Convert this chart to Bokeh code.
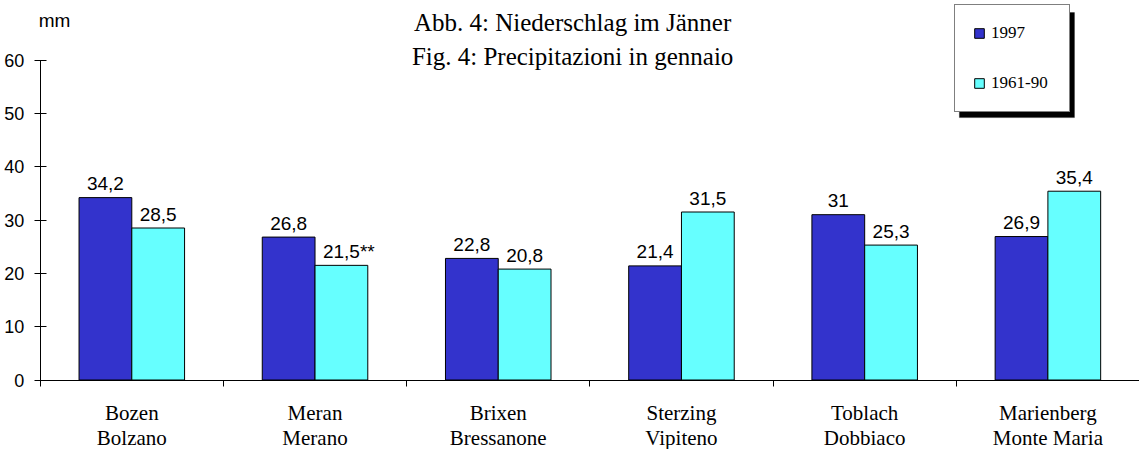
from bokeh.plotting import figure
from bokeh.models import (ColumnDataSource, Range1d, FixedTicker, Legend, LegendItem,
                          Label, BoxAnnotation)
from bokeh.embed import file_html
from bokeh.resources import INLINE
from bokeh.core.properties import value

# ---- data ----
stations_de = ["Bozen", "Meran", "Brixen", "Sterzing", "Toblach", "Marienberg"]
stations_it = ["Bolzano", "Merano", "Bressanone", "Vipiteno", "Dobbiaco", "Monte Maria"]
values_1997 = [34.2, 26.8, 22.8, 21.4, 31.0, 26.9]
values_normal = [28.5, 21.5, 20.8, 31.5, 25.3, 35.4]
labels_1997 = ["34,2", "26,8", "22,8", "21,4", "31", "26,9"]
labels_normal = ["28,5", "21,5**", "20,8", "31,5", "25,3", "35,4"]
y_ticks = [0, 10, 20, 30, 40, 50, 60]
series_names = ["1997", "1961-90"]
title_lines = ["Abb. 4: Niederschlag im Jänner", "Fig. 4: Precipitazioni in gennaio"]
y_unit = "mm"

DARK = "#3333CC"
LIGHT = "#66FFFF"
SANS = "Liberation Sans"
SERIF = "Liberation Serif"

n = len(stations_de)
centers = [i + 0.5 for i in range(n)]
bw = 0.288
x_dark = [c - bw / 2 for c in centers]
x_light = [c + bw / 2 for c in centers]

src_dark = ColumnDataSource(dict(x=x_dark, top=values_1997, lab=labels_1997,
                                 xo=[0.0] * n))
src_light = ColumnDataSource(dict(x=x_light, top=values_normal, lab=labels_normal,
                                  xo=[7.4 if s.endswith("**") else 0.0 for s in labels_normal]))

# frame covers the whole figure; axes are pinned at x=0 / y=0
p = figure(width=1139, height=449, output_backend="svg", toolbar_location=None,
           x_range=Range1d(-0.2167, n), y_range=Range1d(-13.03, 71.16),
           min_border_left=0, min_border_right=0, min_border_top=0, min_border_bottom=0)
p.outline_line_color = None
p.xgrid.visible = False
p.ygrid.visible = False
p.background_fill_color = "white"

r1 = p.vbar(x="x", top="top", width=bw, bottom=0, source=src_dark,
            fill_color=DARK, line_color="black", line_width=1)
r2 = p.vbar(x="x", top="top", width=bw, bottom=0, source=src_light,
            fill_color=LIGHT, line_color="black", line_width=1)

for src in (src_dark, src_light):
    p.text(x="x", y="top", text="lab", source=src, x_offset="xo", y_offset=-14,
           text_align="center", text_baseline="alphabetic",
           text_font=value(SANS), text_font_size="19px", text_color="black")

# x axis
xa = p.xaxis[0]
xa.fixed_location = 0
xa.bounds = (0, n)
xa.ticker = FixedTicker(ticks=centers, minor_ticks=list(range(n + 1)))
xa.major_label_overrides = {c: f"{de}\n{it}" for c, de, it in zip(centers, stations_de, stations_it)}
xa.major_tick_in = 0
xa.major_tick_out = 0
xa.minor_tick_in = 0
xa.minor_tick_out = 6
xa.minor_tick_line_color = "black"
xa.axis_line_color = "black"
xa.major_label_text_font = SERIF
xa.major_label_text_font_size = "21px"
xa.major_label_text_color = "black"
xa.major_label_text_line_height = 1.05
xa.major_label_standoff = 15

# y axis
ya = p.yaxis[0]
ya.fixed_location = 0
ya.bounds = (0, 60)
ya.ticker = FixedTicker(ticks=y_ticks)
ya.major_tick_in = 6
ya.major_tick_out = 6
ya.minor_tick_line_color = None
ya.axis_line_color = "black"
ya.major_tick_line_color = "black"
ya.major_label_text_font = SANS
ya.major_label_text_font_size = "18px"
ya.major_label_text_color = "black"
ya.major_label_standoff = 10

# unit and title
p.add_layout(Label(x=0.078, y=67.4, text=y_unit, text_align="center", text_baseline="alphabetic",
                   text_font=SANS, text_font_size="19px", text_color="black"))
p.add_layout(Label(x=2.906, y=67.0, text=title_lines[0], text_align="center",
                   text_baseline="alphabetic", text_font=SERIF, text_font_size="25px",
                   text_color="black"))
p.add_layout(Label(x=2.906, y=60.66, text=title_lines[1], text_align="center",
                   text_baseline="alphabetic", text_font=SERIF, text_font_size="25px",
                   text_color="black"))

# legend shadow + legend
p.add_layout(BoxAnnotation(left=5.017, right=5.645, bottom=49.2, top=68.9,
                           fill_color="black", fill_alpha=1, line_color="black"))
leg = Legend(items=[LegendItem(label=series_names[0], renderers=[r1]),
                    LegendItem(label=series_names[1], renderers=[r2])],
             location=(954, 337), orientation="vertical",
             padding=18, spacing=30, label_height=20, label_width=60,
             glyph_height=12, glyph_width=12,
             label_standoff=6, border_line_color="black", border_line_width=1,
             background_fill_color="white", background_fill_alpha=1,
             label_text_font=SERIF, label_text_font_size="17px", label_text_color="black")
p.add_layout(leg)

open("out.html", "w").write(file_html(p, INLINE))
